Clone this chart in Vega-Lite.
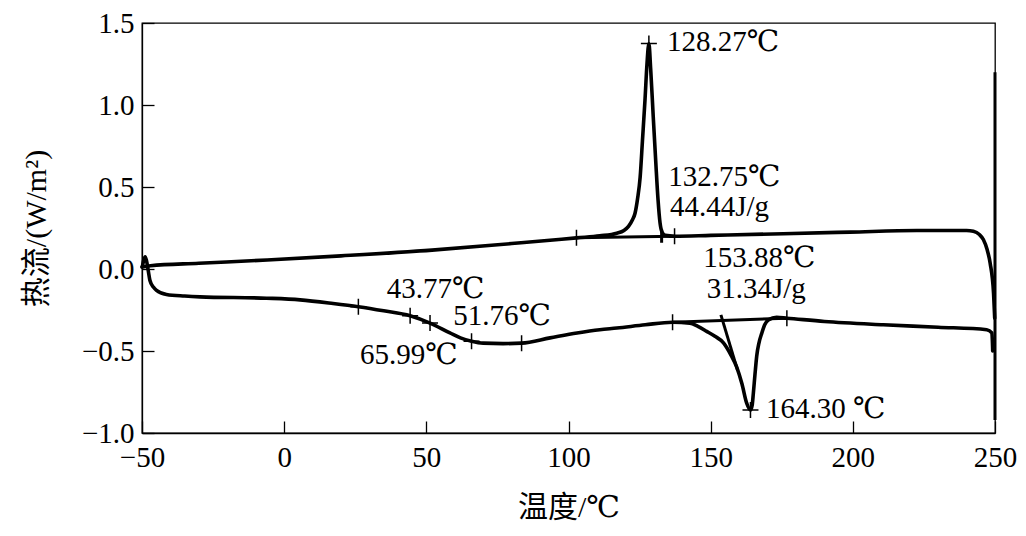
{
  "$schema": "https://vega.github.io/schema/vega-lite/v6.json",
  "width": 853,
  "height": 410,
  "autosize": {"type": "none"},
  "padding": {"left": 142, "top": 23, "right": 31, "bottom": 103},
  "background": "white",
  "config": {
    "view": {"stroke": "black", "strokeWidth": 1.3},
    "font": "Liberation Serif, DejaVu Serif, Noto Sans CJK SC, serif",
    "axis": {
      "grid": false,
      "domainColor": "black",
      "domainWidth": 1.3,
      "tickColor": "black",
      "tickWidth": 1.3,
      "tickSize": -12,
      "labelFlush": false,
      "labelFont": "Liberation Serif, serif",
      "labelFontSize": 29,
      "labelColor": "black",
      "titleFont": "Liberation Serif, DejaVu Serif, Noto Sans CJK SC, serif",
      "titleFontSize": 30,
      "titleFontWeight": "normal",
      "titleColor": "black"
    }
  },
  "datasets": {
    "curves": [
      {"seg": "lower", "i": 1, "t": -49.9, "v": 0.012},
      {"seg": "lower", "i": 2, "t": -49.3, "v": 0.06},
      {"seg": "lower", "i": 3, "t": -48.9, "v": 0.075},
      {"seg": "lower", "i": 4, "t": -48.4, "v": 0.05},
      {"seg": "lower", "i": 5, "t": -47.8, "v": -0.01},
      {"seg": "lower", "i": 6, "t": -47.2, "v": -0.07},
      {"seg": "lower", "i": 7, "t": -46.0, "v": -0.11},
      {"seg": "lower", "i": 8, "t": -44.9, "v": -0.13},
      {"seg": "lower", "i": 9, "t": -41.4, "v": -0.155},
      {"seg": "lower", "i": 10, "t": -35.0, "v": -0.165},
      {"seg": "lower", "i": 11, "t": -29.6, "v": -0.17},
      {"seg": "lower", "i": 12, "t": -6.2, "v": -0.178},
      {"seg": "lower", "i": 13, "t": 5.6, "v": -0.188},
      {"seg": "lower", "i": 14, "t": 17.2, "v": -0.21},
      {"seg": "lower", "i": 15, "t": 26.1, "v": -0.23},
      {"seg": "lower", "i": 16, "t": 35.0, "v": -0.255},
      {"seg": "lower", "i": 17, "t": 44.3, "v": -0.285},
      {"seg": "lower", "i": 18, "t": 51.3, "v": -0.33},
      {"seg": "lower", "i": 19, "t": 58.3, "v": -0.39},
      {"seg": "lower", "i": 20, "t": 62.0, "v": -0.42},
      {"seg": "lower", "i": 21, "t": 65.9, "v": -0.44},
      {"seg": "lower", "i": 22, "t": 70.0, "v": -0.452},
      {"seg": "lower", "i": 23, "t": 77.0, "v": -0.455},
      {"seg": "lower", "i": 24, "t": 83.5, "v": -0.452},
      {"seg": "lower", "i": 25, "t": 93.5, "v": -0.42},
      {"seg": "lower", "i": 26, "t": 103.0, "v": -0.39},
      {"seg": "lower", "i": 27, "t": 111.0, "v": -0.37},
      {"seg": "lower", "i": 28, "t": 117.0, "v": -0.36},
      {"seg": "lower", "i": 29, "t": 127.0, "v": -0.34},
      {"seg": "lower", "i": 30, "t": 136.6, "v": -0.325},
      {"seg": "lower", "i": 31, "t": 142.7, "v": -0.33},
      {"seg": "lower", "i": 32, "t": 145.5, "v": -0.35},
      {"seg": "lower", "i": 33, "t": 148.6, "v": -0.38},
      {"seg": "lower", "i": 34, "t": 151.5, "v": -0.41},
      {"seg": "lower", "i": 35, "t": 154.5, "v": -0.45},
      {"seg": "lower", "i": 36, "t": 157.0, "v": -0.52},
      {"seg": "lower", "i": 37, "t": 159.2, "v": -0.6},
      {"seg": "lower", "i": 38, "t": 161.0, "v": -0.7},
      {"seg": "lower", "i": 39, "t": 162.7, "v": -0.82},
      {"seg": "lower", "i": 40, "t": 164.0, "v": -0.86},
      {"seg": "lower", "i": 41, "t": 164.6, "v": -0.83},
      {"seg": "lower", "i": 42, "t": 165.0, "v": -0.76},
      {"seg": "lower", "i": 43, "t": 165.6, "v": -0.64},
      {"seg": "lower", "i": 44, "t": 166.2, "v": -0.53},
      {"seg": "lower", "i": 45, "t": 167.0, "v": -0.45},
      {"seg": "lower", "i": 46, "t": 168.0, "v": -0.39},
      {"seg": "lower", "i": 47, "t": 169.0, "v": -0.34},
      {"seg": "lower", "i": 48, "t": 170.3, "v": -0.31},
      {"seg": "lower", "i": 49, "t": 173.2, "v": -0.295},
      {"seg": "lower", "i": 50, "t": 176.8, "v": -0.3},
      {"seg": "lower", "i": 51, "t": 190.0, "v": -0.32},
      {"seg": "lower", "i": 52, "t": 210.7, "v": -0.34},
      {"seg": "lower", "i": 53, "t": 230.0, "v": -0.355},
      {"seg": "lower", "i": 54, "t": 247.1, "v": -0.37},
      {"seg": "lower", "i": 55, "t": 248.9, "v": -0.39},
      {"seg": "lower", "i": 56, "t": 249.2, "v": -0.5},
      {"seg": "upper", "i": 101, "t": -50.0, "v": 0.012},
      {"seg": "upper", "i": 102, "t": -47.0, "v": 0.02},
      {"seg": "upper", "i": 103, "t": -30.0, "v": 0.035},
      {"seg": "upper", "i": 104, "t": -6.0, "v": 0.055},
      {"seg": "upper", "i": 105, "t": 20.0, "v": 0.08},
      {"seg": "upper", "i": 106, "t": 52.0, "v": 0.115},
      {"seg": "upper", "i": 107, "t": 80.0, "v": 0.155},
      {"seg": "upper", "i": 108, "t": 93.5, "v": 0.175},
      {"seg": "upper", "i": 109, "t": 102.8, "v": 0.19},
      {"seg": "upper", "i": 110, "t": 111.0, "v": 0.202},
      {"seg": "upper", "i": 111, "t": 117.0, "v": 0.218},
      {"seg": "upper", "i": 112, "t": 119.5, "v": 0.235},
      {"seg": "upper", "i": 113, "t": 121.1, "v": 0.26},
      {"seg": "upper", "i": 114, "t": 122.5, "v": 0.3},
      {"seg": "upper", "i": 115, "t": 123.4, "v": 0.34},
      {"seg": "upper", "i": 116, "t": 124.3, "v": 0.43},
      {"seg": "upper", "i": 117, "t": 125.2, "v": 0.56},
      {"seg": "upper", "i": 118, "t": 126.0, "v": 0.78},
      {"seg": "upper", "i": 119, "t": 126.9, "v": 1.03},
      {"seg": "upper", "i": 120, "t": 127.6, "v": 1.25},
      {"seg": "upper", "i": 121, "t": 128.27, "v": 1.375},
      {"seg": "upper", "i": 122, "t": 128.9, "v": 1.22},
      {"seg": "upper", "i": 123, "t": 129.8, "v": 0.93},
      {"seg": "upper", "i": 124, "t": 130.7, "v": 0.65},
      {"seg": "upper", "i": 125, "t": 131.5, "v": 0.42},
      {"seg": "upper", "i": 126, "t": 132.2, "v": 0.28},
      {"seg": "upper", "i": 127, "t": 132.9, "v": 0.225},
      {"seg": "upper", "i": 128, "t": 134.0, "v": 0.205},
      {"seg": "upper", "i": 129, "t": 137.3, "v": 0.2},
      {"seg": "upper", "i": 130, "t": 150.0, "v": 0.205},
      {"seg": "upper", "i": 131, "t": 175.5, "v": 0.215},
      {"seg": "upper", "i": 132, "t": 199.0, "v": 0.225},
      {"seg": "upper", "i": 133, "t": 222.5, "v": 0.235},
      {"seg": "upper", "i": 134, "t": 240.0, "v": 0.235},
      {"seg": "upper", "i": 135, "t": 242.4, "v": 0.23},
      {"seg": "upper", "i": 136, "t": 244.5, "v": 0.21},
      {"seg": "upper", "i": 137, "t": 245.9, "v": 0.18},
      {"seg": "upper", "i": 138, "t": 247.2, "v": 0.12},
      {"seg": "upper", "i": 139, "t": 248.3, "v": 0.035},
      {"seg": "upper", "i": 140, "t": 249.5, "v": -0.15},
      {"seg": "upper", "i": 141, "t": 249.9, "v": -0.3}
    ],
    "lines": [
      {"seg": "vertical", "i": 1, "t": 250.0, "v": -0.92},
      {"seg": "vertical", "i": 2, "t": 250.0, "v": 1.2},
      {"seg": "exoBase", "i": 1, "t": 102.8, "v": 0.19},
      {"seg": "exoBase", "i": 2, "t": 137.3, "v": 0.2},
      {"seg": "exoMark", "i": 1, "t": 132.75, "v": 0.24},
      {"seg": "exoMark", "i": 2, "t": 132.75, "v": 0.16},
      {"seg": "endoBase", "i": 1, "t": 136.6, "v": -0.325},
      {"seg": "endoBase", "i": 2, "t": 176.8, "v": -0.3},
      {"seg": "endoTangent", "i": 1, "t": 153.6, "v": -0.28},
      {"seg": "endoTangent", "i": 2, "t": 159.5, "v": -0.62}
    ],
    "crosses": [
      {"t": 26.1, "v": -0.23},
      {"t": 44.3, "v": -0.285},
      {"t": 51.3, "v": -0.33},
      {"t": 65.9, "v": -0.44},
      {"t": 83.5, "v": -0.452},
      {"t": 136.6, "v": -0.325},
      {"t": 176.8, "v": -0.3},
      {"t": 164.0, "v": -0.86},
      {"t": 102.8, "v": 0.19},
      {"t": 128.27, "v": 1.375},
      {"t": 137.3, "v": 0.2}
    ],
    "labels": [
      {"label": "128.27℃", "t": 134.6, "v": 1.384},
      {"label": "132.75℃", "t": 135.1, "v": 0.56},
      {"label": "44.44J/g", "t": 135.7, "v": 0.38},
      {"label": "153.88℃", "t": 147.4, "v": 0.065},
      {"label": "31.34J/g", "t": 148.6, "v": -0.122},
      {"label": "164.30 ℃", "t": 169.5, "v": -0.854},
      {"label": "43.77℃", "t": 36.1, "v": -0.122},
      {"label": "51.76℃", "t": 59.5, "v": -0.286},
      {"label": "65.99℃", "t": 26.7, "v": -0.524}
    ]
  },
  "layer": [
    {
      "data": {"name": "curves"},
      "mark": {"type": "line", "color": "black", "strokeWidth": 3.6, "interpolate": "monotone", "strokeJoin": "round", "strokeCap": "round"},
      "encoding": {
        "x": {"field": "t", "type": "quantitative", "scale": {"domain": [-50, 250], "nice": false, "zero": false},
          "axis": {"values": [-50, 0, 50, 100, 150, 200, 250], "title": "温度/℃", "labelPadding": 22, "titlePadding": 20}},
        "y": {"field": "v", "type": "quantitative", "scale": {"domain": [-1, 1.5], "nice": false, "zero": false},
          "axis": {"values": [-1, -0.5, 0, 0.5, 1, 1.5], "format": ".1f", "title": "热流/(W/m²)", "labelPadding": 20, "titlePadding": 30}},
        "detail": {"field": "seg"},
        "order": {"field": "i"}
      }
    },
    {
      "data": {"name": "lines"},
      "mark": {"type": "line", "color": "black", "strokeWidth": 3, "interpolate": "linear"},
      "encoding": {
        "x": {"field": "t", "type": "quantitative"},
        "y": {"field": "v", "type": "quantitative"},
        "detail": {"field": "seg"},
        "order": {"field": "i"}
      }
    },
    {
      "data": {"name": "crosses"},
      "mark": {"type": "point", "shape": "M-1,0L1,0M0,-1L0,1", "filled": false, "color": "black", "strokeWidth": 1.5, "size": 256, "opacity": 1},
      "encoding": {
        "x": {"field": "t", "type": "quantitative"},
        "y": {"field": "v", "type": "quantitative"}
      }
    },
    {
      "data": {"name": "labels"},
      "mark": {"type": "text", "align": "left", "baseline": "middle", "fontSize": 29, "font": "Liberation Serif, DejaVu Serif, serif", "color": "black"},
      "encoding": {
        "x": {"field": "t", "type": "quantitative"},
        "y": {"field": "v", "type": "quantitative"},
        "text": {"field": "label"}
      }
    }
  ]
}
